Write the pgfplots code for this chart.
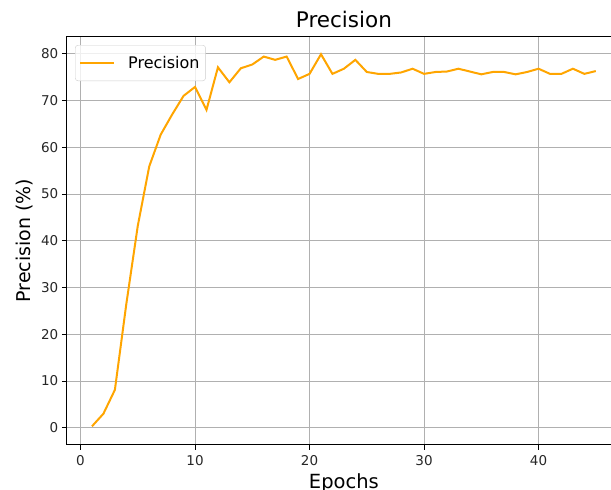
\documentclass[border=0pt]{standalone}
\usepackage{fontspec}
\setmainfont{DejaVu Sans}
\usepackage{pgfplots}
\pgfplotsset{compat=1.18}
\definecolor{mplorange}{HTML}{FFA500}
\definecolor{gridgray}{HTML}{B0B0B0}
\definecolor{legframe}{HTML}{CCCCCC}
\begin{document}
\begin{tikzpicture}
\begin{axis}[
  at={(0,0)}, anchor=south west,
  scale only axis,
  width=554.2pt, height=409pt,
  xmin=-1.2, xmax=47.2, ymin=-3.7, ymax=83.8,
  xtick={0,10,20,30,40}, ytick={0,10,20,30,40,50,60,70,80},
  grid=major, grid style={gridgray, line width=0.9pt},
  axis line style={black, line width=1pt},
  tick align=outside, xtick pos=lower, ytick pos=left,
  major tick length=5pt,
  tick style={black, line width=0.9pt},
  ticklabel style={font=\fontsize{13.5}{15}\selectfont, text=black!85},
  xticklabel style={yshift=-2pt},
  /pgf/number format/assume math mode=true,
  title={Precision},
  title style={at={(axis description cs:0.5,1.0073)}, anchor=base, inner sep=0pt, font=\fontsize{21.5}{24}\selectfont},
  xlabel={Epochs},
  xlabel style={at={(axis description cs:0.5,-0.0685)}, anchor=north, inner sep=0pt, font=\fontsize{19.5}{22}\selectfont},
  ylabel={Precision (\%)},
  ylabel style={at={(axis description cs:-0.0754,0.5)}, anchor=center, inner sep=0pt, font=\fontsize{19}{22}\selectfont},
  legend style={at={(axis description cs:0.0148,0.978)}, anchor=north west,
    draw=legframe, rounded corners=3pt, fill=white, fill opacity=0.8, text opacity=1,
    font=\fontsize{16}{18}\selectfont, inner xsep=4pt, inner ysep=9pt,
    /tikz/every odd column/.append style={column sep=11pt}},
  legend cell align=left,
  legend image code/.code={\draw[#1] (0pt,0pt) -- (34pt,0pt);},
]
\addplot[mplorange, line width=2pt] coordinates {
(1,0.3) (2,3.0) (3,8.1) (4,26.5) (5,43.2) (6,55.9) (7,62.7) (8,67.0) (9,71.0) (10,72.9)
(11,68.0) (12,77.1) (13,73.9) (14,76.9) (15,77.7) (16,79.4) (17,78.7) (18,79.4) (19,74.6) (20,75.7)
(21,79.9) (22,75.7) (23,76.8) (24,78.7) (25,76.1) (26,75.7) (27,75.7) (28,76.0) (29,76.8) (30,75.7)
(31,76.1) (32,76.2) (33,76.8) (34,76.2) (35,75.6) (36,76.1) (37,76.1) (38,75.6) (39,76.1) (40,76.8)
(41,75.7) (42,75.7) (43,76.8) (44,75.7) (45,76.3)
};
\addlegendentry{Precision}
\end{axis}
\pgfresetboundingbox
\useasboundingbox (-66.8pt,-45pt) rectangle (544.2pt,445pt);
\end{tikzpicture}
\end{document}
